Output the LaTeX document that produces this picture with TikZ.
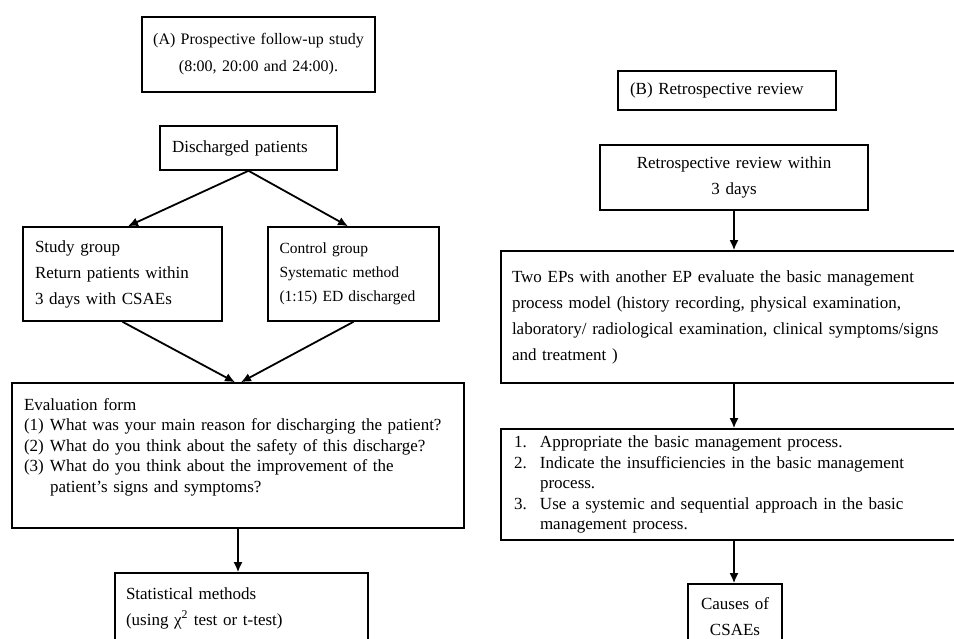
\documentclass[tikz,border=0pt]{standalone}
\usepackage{fontspec}
\setmainfont{Liberation Serif}
\usetikzlibrary{shapes, calc, arrows.meta}
\tikzstyle{flowbox}=[
    draw,               % black border around every box
    rectangle,          % the shape of the node is a plain rectangle
    line width=1.6pt,   % boxes are drawn a bit heavier than arrows
    inner xsep=12pt,
    inner ysep=4pt,
    align=left,
    font=\fontsize{17}{26}\selectfont]
\tikzstyle{tightbox}=[
    flowbox,            % same box, lines set closer together
    font=\fontsize{17}{20.5}\selectfont]
\tikzstyle{flowarrow}=[
    draw,               % edges are drawn
    line width=1.8pt,
    ->]
\newcommand{\numitem}[2]{\makebox[26pt][l]{#1}#2}

\begin{document}
\begin{tikzpicture}[>={Latex[length=10pt,width=9pt]}, x=1pt, y=-1pt, every edge/.style={flowarrow}]
        \useasboundingbox (0,0) rectangle (954,639);
        \clip (0,0) rectangle (954,639);

        % Draw the boxes of part A.
        \node[flowbox, align=center, text width=225pt, inner xsep=4pt, minimum height=75pt, font=\fontsize{16}{27}\selectfont] (A) at (258.5,54.5) {(A) Prospective follow-up study\\ (8:00, 20:00 and 24:00).};
        \node[flowbox, text width=153pt, minimum height=44pt, below of=A, node distance=93.5pt, xshift=-10pt] (dis) {Discharged patients};
        \node[flowbox, text width=175pt, minimum height=94pt, below of=dis, node distance=126pt, xshift=-126pt] (study) {Study group\\ Return patients within\\ 3 days with CSAEs};
        \node[flowbox, text width=148pt, inner xsep=11.5pt, minimum height=94pt, right of=study, node distance=231pt, font=\fontsize{15.5}{24}\selectfont] (control) {Control group\\ Systematic method\\ (1:15) ED discharged};
        \node[tightbox, text width=428pt, minimum height=145pt, below of=dis, node distance=307.5pt, xshift=-10.5pt] (eval) {Evaluation form\\
            \numitem{(1)}{What was your main reason for discharging the patient?}\\
            \numitem{(2)}{What do you think about the safety of this discharge?}\\
            \numitem{(3)}{What do you think about the improvement of the}\\
            \numitem{}{patient's signs and symptoms?}\\ \mbox{}};
        \node[flowbox, text width=231pt, inner xsep=11pt, minimum height=70pt, below of=eval, node distance=152.5pt, xshift=3.5pt] (stat) {Statistical methods\\ (using χ\textsuperscript{2} test or t-test)};

        % Draw the boxes of part B.
        \node[flowbox, text width=194pt, minimum height=39pt, right of=A, node distance=468.5pt, yshift=-36pt] (B) {(B) Retrospective review};
        \node[flowbox, align=center, text width=244pt, minimum height=65pt, below of=B, node distance=87pt, xshift=7pt] (retro) {Retrospective review within\\ 3 days};
        \node[flowbox, text width=444pt, inner xsep=11pt, minimum height=132pt, below of=retro, node distance=139.5pt] (twoEP) {Two EPs with another EP evaluate the basic management\\ process model (history recording, physical examination,\\ laboratory/ radiological examination, clinical symptoms/signs\\ and treatment )};
        \node[tightbox, text width=440pt, inner xsep=13pt, minimum height=111pt, below of=twoEP, node distance=167.5pt] (list) {\numitem{1.}{Appropriate the basic management process.}\\
            \numitem{2.}{Indicate the insufficiencies in the basic management}\\
            \numitem{}{process.}\\
            \numitem{3.}{Use a systemic and sequential approach in the basic}\\
            \numitem{}{management process.}};
        \node[flowbox, align=center, text width=86pt, inner xsep=4pt, minimum height=66pt, below of=list, node distance=132.5pt, xshift=1pt] (causes) {Causes of\\ CSAEs};

        % Connect boxes with arrows
        \path (dis.south) edge ([xshift=5.5pt]study.north);
        \path (dis.south) edge ([xshift=-5.5pt]control.north);
        \path (study.south) edge ([xshift=-3pt]eval.north);
        \path (control.south) edge ([xshift=3pt]eval.north);
        \path (eval.south) edge (eval.south |- stat.north);
        \path (retro.south) edge (retro.south |- twoEP.north);
        \path (twoEP.south) edge (twoEP.south |- list.north);
        \path (list.south) edge (list.south |- causes.north);
\end{tikzpicture}
\end{document}
